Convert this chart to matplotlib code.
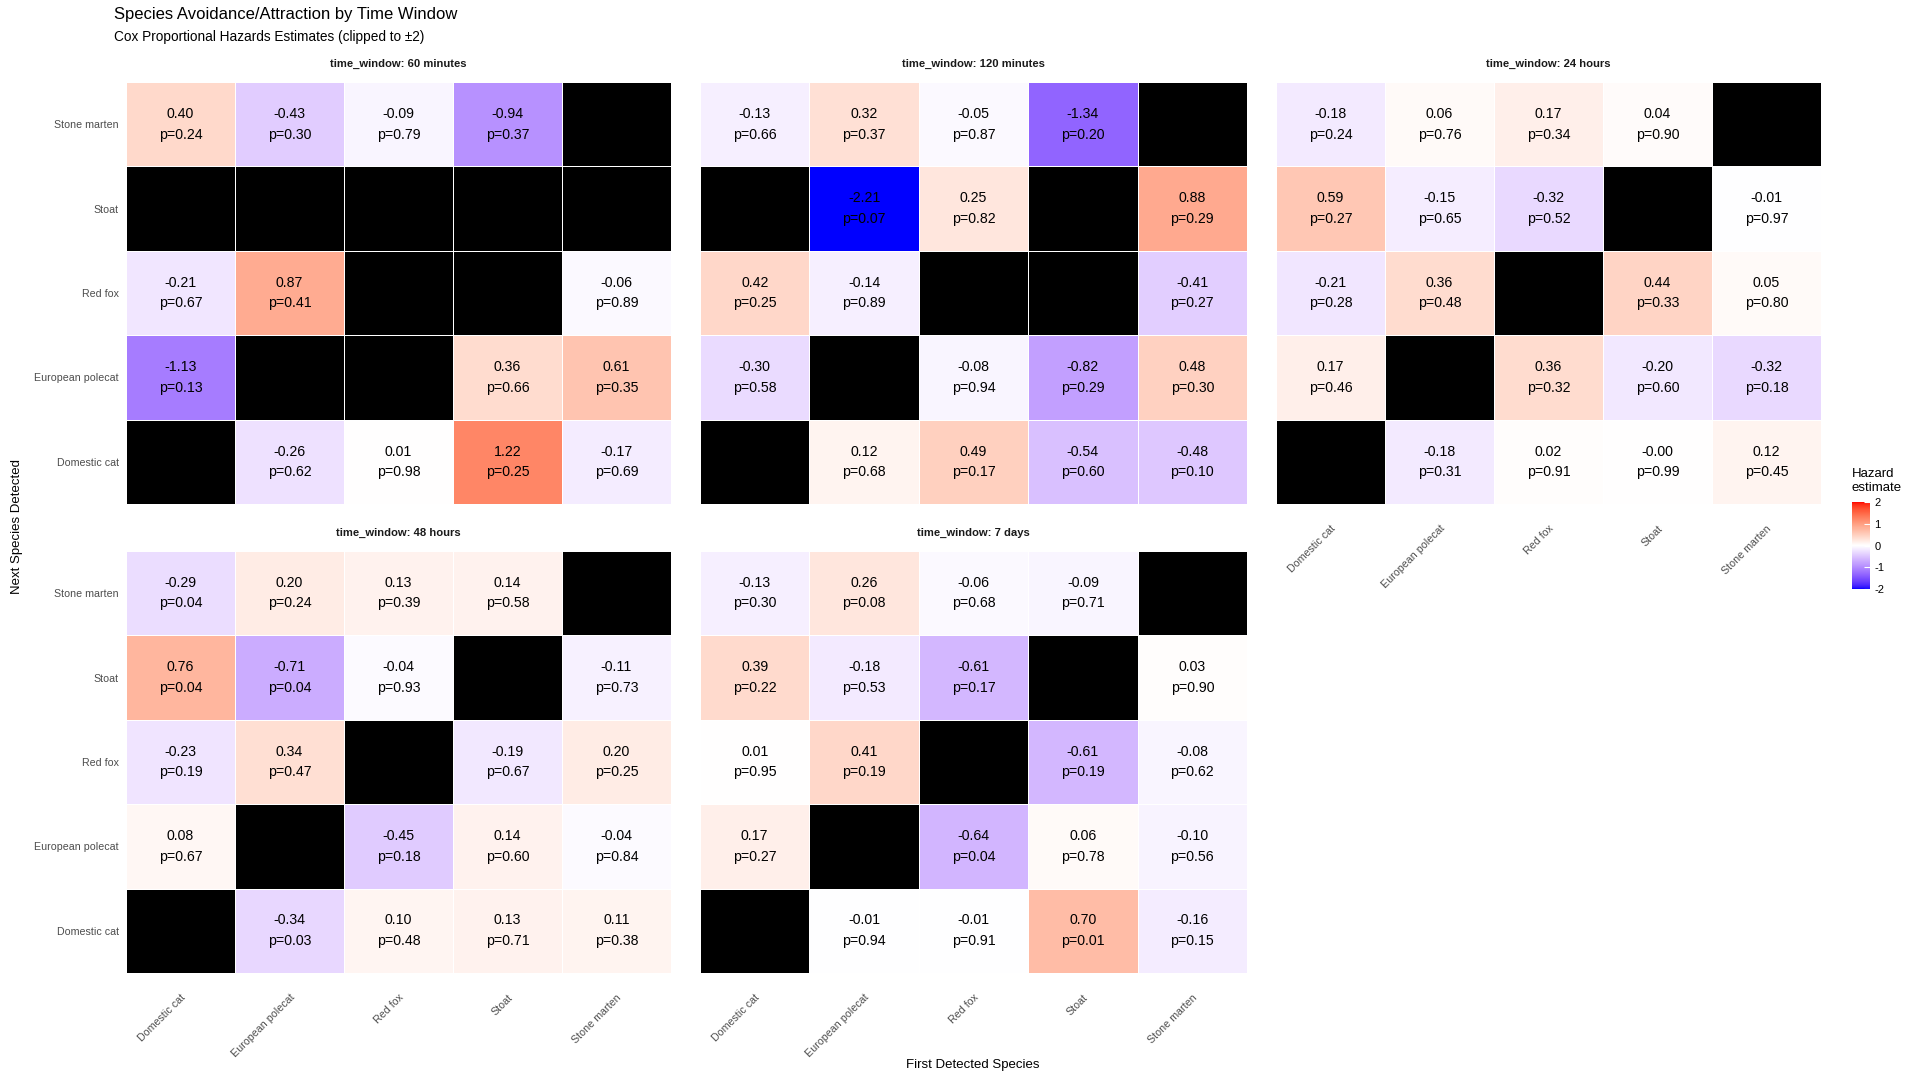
import matplotlib
matplotlib.use("Agg")
import matplotlib.pyplot as plt
import numpy as np
from matplotlib.colors import ListedColormap, Normalize
from matplotlib.colorbar import ColorbarBase

plt.rcParams['font.family'] = ['Liberation Sans', 'DejaVu Sans']
plt.rcParams['axes.unicode_minus'] = False

# first detected species (columns) and next detected species (rows, top to bottom)
first_species = ["Domestic cat", "European polecat", "Red fox", "Stoat", "Stone marten"]
next_species = ["Stone marten", "Stoat", "Red fox", "European polecat", "Domestic cat"]

windows = ["60 minutes", "120 minutes", "24 hours", "48 hours", "7 days"]

# hazard estimates, None = not estimable
est_60min = [[0.40, -0.43, -0.09, -0.94, None],
             [None, None, None, None, None],
             [-0.21, 0.87, None, None, -0.06],
             [-1.13, None, None, 0.36, 0.61],
             [None, -0.26, 0.01, 1.22, -0.17]]
p_60min = [[0.24, 0.30, 0.79, 0.37, None],
           [None, None, None, None, None],
           [0.67, 0.41, None, None, 0.89],
           [0.13, None, None, 0.66, 0.35],
           [None, 0.62, 0.98, 0.25, 0.69]]

est_120min = [[-0.13, 0.32, -0.05, -1.34, None],
              [None, -2.21, 0.25, None, 0.88],
              [0.42, -0.14, None, None, -0.41],
              [-0.30, None, -0.08, -0.82, 0.48],
              [None, 0.12, 0.49, -0.54, -0.48]]
p_120min = [[0.66, 0.37, 0.87, 0.20, None],
            [None, 0.07, 0.82, None, 0.29],
            [0.25, 0.89, None, None, 0.27],
            [0.58, None, 0.94, 0.29, 0.30],
            [None, 0.68, 0.17, 0.60, 0.10]]

est_24h = [[-0.18, 0.06, 0.17, 0.04, None],
           [0.59, -0.15, -0.32, None, -0.01],
           [-0.21, 0.36, None, 0.44, 0.05],
           [0.17, None, 0.36, -0.20, -0.32],
           [None, -0.18, 0.02, -0.0, 0.12]]
p_24h = [[0.24, 0.76, 0.34, 0.90, None],
         [0.27, 0.65, 0.52, None, 0.97],
         [0.28, 0.48, None, 0.33, 0.80],
         [0.46, None, 0.32, 0.60, 0.18],
         [None, 0.31, 0.91, 0.99, 0.45]]

est_48h = [[-0.29, 0.20, 0.13, 0.14, None],
           [0.76, -0.71, -0.04, None, -0.11],
           [-0.23, 0.34, None, -0.19, 0.20],
           [0.08, None, -0.45, 0.14, -0.04],
           [None, -0.34, 0.10, 0.13, 0.11]]
p_48h = [[0.04, 0.24, 0.39, 0.58, None],
         [0.04, 0.04, 0.93, None, 0.73],
         [0.19, 0.47, None, 0.67, 0.25],
         [0.67, None, 0.18, 0.60, 0.84],
         [None, 0.03, 0.48, 0.71, 0.38]]

est_7d = [[-0.13, 0.26, -0.06, -0.09, None],
          [0.39, -0.18, -0.61, None, 0.03],
          [0.01, 0.41, None, -0.61, -0.08],
          [0.17, None, -0.64, 0.06, -0.10],
          [None, -0.01, -0.01, 0.70, -0.16]]
p_7d = [[0.30, 0.08, 0.68, 0.71, None],
        [0.22, 0.53, 0.17, None, 0.90],
        [0.95, 0.19, None, 0.19, 0.62],
        [0.27, None, 0.04, 0.78, 0.56],
        [None, 0.94, 0.91, 0.01, 0.15]]

estimates = [est_60min, est_120min, est_24h, est_48h, est_7d]
pvalues = [p_60min, p_120min, p_24h, p_48h, p_7d]


# blue - white - red gradient interpolated in CIELAB (like ggplot's gradient2)
def srgb_to_lab(rgb):
    c = np.asarray(rgb, float)
    c = np.where(c <= 0.04045, c / 12.92, ((c + 0.055) / 1.055) ** 2.4)
    m = np.array([[0.4124, 0.3576, 0.1805],
                  [0.2126, 0.7152, 0.0722],
                  [0.0193, 0.1192, 0.9505]])
    xyz = m @ c / np.array([0.95047, 1.0, 1.08883])
    f = np.where(xyz > 0.008856, np.cbrt(xyz), 7.787 * xyz + 16 / 116)
    return np.array([116 * f[1] - 16, 500 * (f[0] - f[1]), 200 * (f[1] - f[2])])


def lab_to_srgb(lab):
    L, a, b = lab
    fy = (L + 16) / 116
    fx = fy + a / 500
    fz = fy - b / 200
    f = np.array([fx, fy, fz])
    xyz = np.where(f ** 3 > 0.008856, f ** 3, (f - 16 / 116) / 7.787)
    xyz = xyz * np.array([0.95047, 1.0, 1.08883])
    m = np.array([[3.2406, -1.5372, -0.4986],
                  [-0.9689, 1.8758, 0.0415],
                  [0.0557, -0.2040, 1.0570]])
    c = m @ xyz
    c = np.where(c <= 0.0031308, 12.92 * c, 1.055 * np.clip(c, 0, None) ** (1 / 2.4) - 0.055)
    return np.clip(c, 0, 1)


lab_lo = srgb_to_lab([0, 0, 1])
lab_mid = srgb_to_lab([1, 1, 1])
lab_hi = srgb_to_lab([1, 0, 0])
cols = []
for v in np.linspace(-1, 1, 256):
    if v < 0:
        lab = lab_mid + (lab_lo - lab_mid) * (-v)
    else:
        lab = lab_mid + (lab_hi - lab_mid) * v
    cols.append(lab_to_srgb(lab))
cmap = ListedColormap(cols)
cmap.set_bad('black')
norm = Normalize(-2, 2)

W, H = 1920, 1080
fig = plt.figure(figsize=(19.2, 10.8), dpi=100)

col_x = [(126, 671), (700, 1247), (1276, 1821)]
row_y = [(82, 504), (551, 973)]
panel_pos = [(0, 0), (0, 1), (0, 2), (1, 0), (1, 1)]

for k, w in enumerate(windows):
    r, c = panel_pos[k]
    x0, x1 = col_x[c]
    y0, y1 = row_y[r]
    ax = fig.add_axes([x0 / W, 1 - y1 / H, (x1 - x0) / W, (y1 - y0) / H])
    est = np.array([[np.nan if v is None else v for v in row] for row in estimates[k]], float)
    pv = pvalues[k]
    ax.pcolormesh(np.arange(6), np.arange(6), np.ma.masked_invalid(np.clip(est, -2, 2)),
                  cmap=cmap, norm=norm, edgecolors='white', linewidth=0.5)
    for i in range(5):
        for j in range(5):
            if np.isnan(est[i, j]):
                continue
            ax.text(j + 0.5, i + 0.5, f"{est[i, j]:.2f}\np={pv[i][j]:.2f}",
                    ha='center', va='center', fontsize=10.2, linespacing=1.6, color='black')
    ax.set_xlim(0, 5)
    ax.set_ylim(5, 0)
    for s in ax.spines.values():
        s.set_visible(False)
    ax.tick_params(length=0, labelsize=7.7, labelcolor='#4D4D4D')
    ax.set_yticks(np.arange(5) + 0.5)
    if c == 0:
        ax.set_yticklabels(next_species)
        ax.tick_params(axis='y', pad=5)
    else:
        ax.set_yticklabels([])
    ax.set_xticks(np.arange(5) + 0.5)
    if r == 1 or c == 2:
        ax.set_xticklabels(first_species, rotation=45, ha='right', va='top',
                           rotation_mode='anchor')
        ax.tick_params(axis='x', pad=14)
    else:
        ax.set_xticklabels([])
    fig.text((x0 + x1) / 2 / W, 1 - (y0 - 18) / H, "time_window: " + w,
             ha='center', va='center', fontsize=8.1, fontweight='bold', color='#1A1A1A')

fig.text(114 / W, 1 - 15 / H, "Species Avoidance/Attraction by Time Window",
         ha='left', va='center', fontsize=12)
fig.text(114 / W, 1 - 37 / H, "Cox Proportional Hazards Estimates (clipped to \u00b12)",
         ha='left', va='center', fontsize=9.8)
fig.text(17 / W, 1 - 527 / H, "Next Species Detected", rotation=90,
         ha='center', va='center', fontsize=9.5)
fig.text(973 / W, 1 - 1065 / H, "First Detected Species",
         ha='center', va='center', fontsize=9.5)

# legend
cax = fig.add_axes([1852 / W, 1 - 589 / H, 18 / W, 87 / H])
cb = ColorbarBase(cax, cmap=cmap, norm=norm, ticks=[-2, -1, 0, 1, 2])
cb.outline.set_visible(False)
cax.tick_params(length=4, width=0.8, color='white', direction='in', labelsize=8, pad=3)
fig.text(1852 / W, 1 - 481 / H, "Hazard\nestimate", ha='left', va='center',
         fontsize=9.5, linespacing=1.15)

fig.savefig("out.png", dpi=100)
